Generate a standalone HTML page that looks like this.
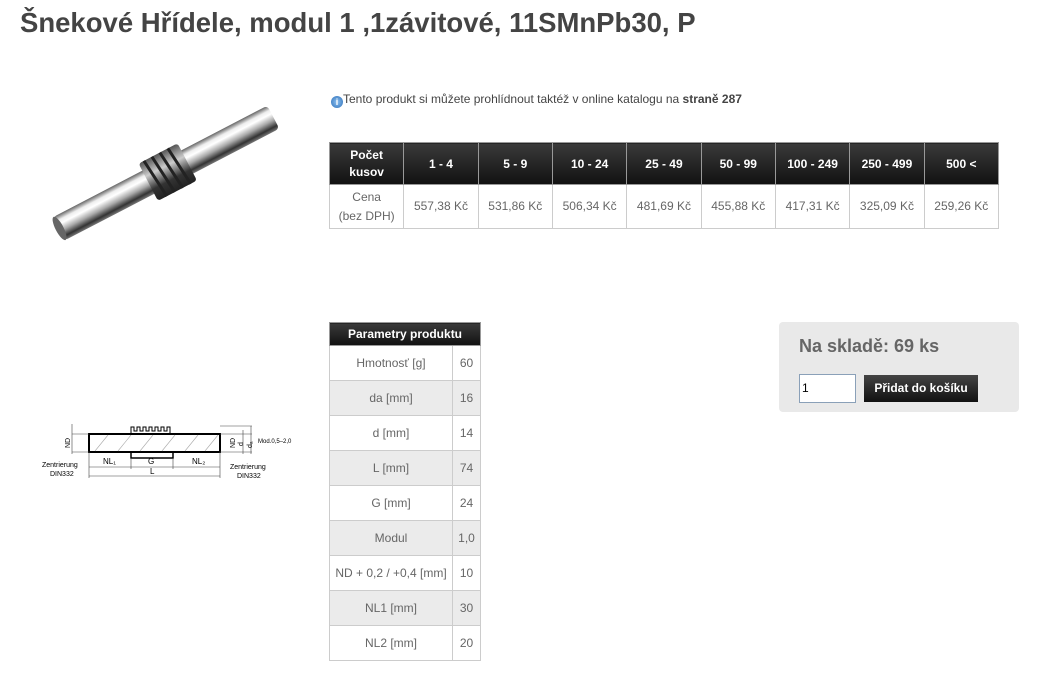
<!DOCTYPE html>
<html><head><meta charset="utf-8"><style>
body{margin:0;width:1037px;height:686px;background:#fff;font-family:"Liberation Sans",Arial,sans-serif;position:relative;overflow:hidden}
.abs{position:absolute}
h1{position:absolute;left:20px;top:7px;margin:0;font-size:27.5px;font-weight:bold;color:#444}
table{border-collapse:collapse;position:absolute;font-size:12px;color:#666}
td,th{border:1px solid #ccc;text-align:center;padding:0}
th{background:linear-gradient(#3a3a3a,#111);color:#fff;font-weight:bold;border-color:#999}
#price{left:329px;top:142px;width:670px}
#price th{height:41px;width:74px}
#price td{height:43px;line-height:19px}
#par{left:329px;top:322px;width:152px}
#par th{height:22px;font-size:12px}
#par td{height:34px}
#par tr:nth-child(odd) td{background:#ebebeb}
#par td.v{width:27px}
</style></head><body>
<h1>Šnekové Hřídele, modul 1 ,1závitové, 11SMnPb30, P</h1>

<svg class="abs" style="left:0;top:0" width="320" height="300">
<defs>
<linearGradient id="g" x1="0" y1="0" x2="0" y2="1">
<stop offset="0" stop-color="#666"/><stop offset=".2" stop-color="#eee"/><stop offset=".35" stop-color="#fff"/><stop offset=".6" stop-color="#aaa"/><stop offset=".85" stop-color="#333"/><stop offset="1" stop-color="#777"/></linearGradient>
<linearGradient id="w" x1="0" y1="0" x2="0" y2="1">
<stop offset="0" stop-color="#555"/><stop offset=".35" stop-color="#ccc"/><stop offset=".7" stop-color="#333"/><stop offset="1" stop-color="#222"/></linearGradient>
</defs>
<g transform="translate(166,173) rotate(-27.5)">
<rect x="-121" y="-13" width="242" height="26" rx="4" fill="url(#g)"/>
<ellipse cx="-120" cy="0" rx="4" ry="13" fill="#666"/>
<rect x="-20" y="-21" width="44" height="42" rx="3" fill="url(#w)"/>
<g stroke="#222" stroke-width="3">
<line x1="-14" y1="-21" x2="-10" y2="21"/><line x1="-5" y1="-21" x2="-1" y2="21"/><line x1="4" y1="-21" x2="8" y2="21"/><line x1="13" y1="-21" x2="17" y2="21"/></g>
</g>
</svg>

<svg class="abs" style="left:40px;top:410px" width="260" height="80" font-family="Liberation Sans" font-size="7" fill="#000">
<rect x="49" y="24" width="131" height="18" fill="none" stroke="#000" stroke-width="2"/>
<path d="M91 42 v6 h42 v-6" fill="none" stroke="#000" stroke-width="1.5"/>
<path d="M91 24 v-7 h3 v4 h3 v-4 h3 v4 h3 v-4 h3 v4 h3 v-4 h3 v4 h3 v-4 h3 v4 h3 v-4 h3 v4 h3 v-4 h3 v7" fill="none" stroke="#000"/>
<g stroke="#aaa" stroke-width=".6"><line x1="55" y1="41" x2="68" y2="25"/><line x1="78" y1="41" x2="91" y2="25"/><line x1="100" y1="41" x2="113" y2="25"/><line x1="122" y1="41" x2="135" y2="25"/><line x1="145" y1="41" x2="158" y2="25"/><line x1="165" y1="41" x2="178" y2="25"/></g>
<g stroke="#444" stroke-width=".6"><line x1="32" y1="24" x2="49" y2="24"/><line x1="32" y1="42" x2="49" y2="42"/><line x1="32" y1="14" x2="32" y2="44"/><line x1="49" y1="57" x2="180" y2="57"/><line x1="49" y1="66" x2="180" y2="66"/><line x1="49" y1="42" x2="49" y2="68"/><line x1="180" y1="42" x2="180" y2="68"/><line x1="91" y1="48" x2="91" y2="59"/><line x1="133" y1="48" x2="133" y2="59"/><line x1="180" y1="24" x2="212" y2="24"/><line x1="180" y1="42" x2="212" y2="42"/><line x1="203" y1="20" x2="203" y2="44"/><line x1="211" y1="16" x2="211" y2="44"/><line x1="180" y1="16" x2="212" y2="16"/></g>
<text x="0" y="0" transform="translate(30 38) rotate(-90)">ND</text>
<text x="0" y="0" transform="translate(195 38) rotate(-90)">ND</text>
<text x="0" y="0" transform="translate(203 36) rotate(-90)">d</text>
<text x="0" y="0" transform="translate(212 38) rotate(-90)">dₐ</text>
<text x="63" y="54" font-size="8">NL₁</text><text x="108" y="54" font-size="8">G</text><text x="152" y="54" font-size="8">NL₂</text>
<text x="110" y="64" font-size="8">L</text>
<text x="2" y="57">Zentrierung</text><text x="10" y="66">DIN332</text>
<text x="190" y="59">Zentrierung</text><text x="197" y="68">DIN332</text>
<text x="218" y="33" font-size="6">Mod.0,5–2,0</text>
</svg>

<div class="abs" style="left:331px;top:92px;font-size:12px;color:#444"><span style="display:inline-block;width:12px;height:12px;border-radius:50%;background:radial-gradient(#8cc0f0,#2d6fb8);color:#fff;font-size:9px;text-align:center;line-height:12px;vertical-align:-2px;font-weight:bold">i</span>Tento produkt si můžete prohlídnout taktéž v online katalogu na <b>straně 287</b></div>

<table id="price">
<tr><th style="line-height:17px">Počet<br>kusov</th><th>1 - 4</th><th>5 - 9</th><th>10 - 24</th><th>25 - 49</th><th>50 - 99</th><th>100 - 249</th><th>250 - 499</th><th>500 &lt;</th></tr>
<tr><td>Cena<br>(bez DPH)</td><td>557,38 Kč</td><td>531,86 Kč</td><td>506,34 Kč</td><td>481,69 Kč</td><td>455,88 Kč</td><td>417,31 Kč</td><td>325,09 Kč</td><td>259,26 Kč</td></tr>
</table>

<table id="par">
<tr><th colspan="2">Parametry produktu</th></tr>
<tr><td>Hmotnosť [g]</td><td class="v">60</td></tr>
<tr><td>da [mm]</td><td class="v">16</td></tr>
<tr><td>d [mm]</td><td class="v">14</td></tr>
<tr><td>L [mm]</td><td class="v">74</td></tr>
<tr><td>G [mm]</td><td class="v">24</td></tr>
<tr><td>Modul</td><td class="v">1,0</td></tr>
<tr><td>ND + 0,2 / +0,4 [mm]</td><td class="v">10</td></tr>
<tr><td>NL1 [mm]</td><td class="v">30</td></tr>
<tr><td>NL2 [mm]</td><td class="v">20</td></tr>
</table>

<div class="abs" style="left:779px;top:322px;width:240px;height:90px;background:#e9e9e9;border-radius:4px">
<div class="abs" style="left:20px;top:14px;font-size:18px;font-weight:bold;color:#666">Na skladě: 69 ks</div>
<div class="abs" style="left:20px;top:52px;width:57px;height:29px;background:#fff;border:1px solid #8aa0b8;font-size:12px;line-height:27px;padding-left:2px;box-sizing:border-box">1</div>
<div class="abs" style="left:85px;top:53px;width:114px;height:27px;background:linear-gradient(#444,#111);color:#fff;font-size:12px;font-weight:bold;text-align:center;line-height:27px">Přidat do košíku</div>
</div>
</body></html>
